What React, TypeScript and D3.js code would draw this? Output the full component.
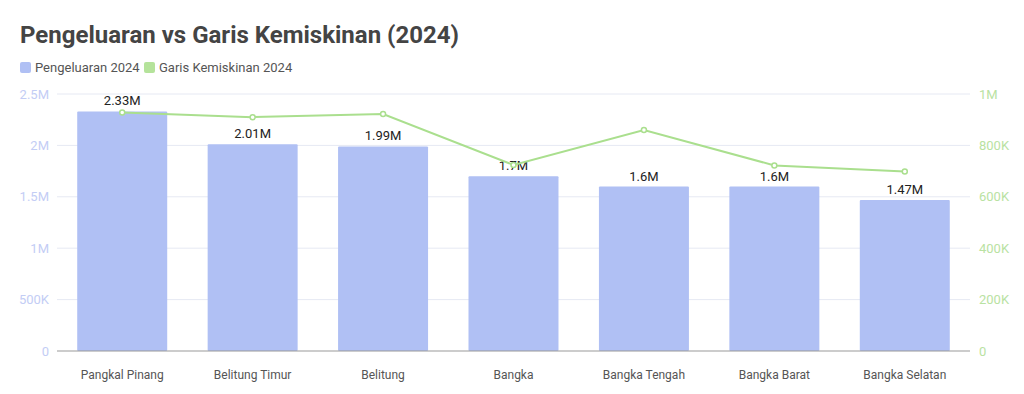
import React from 'react';
import * as d3 from 'd3';

const categories = ['Pangkal Pinang', 'Belitung Timur', 'Belitung', 'Bangka', 'Bangka Tengah', 'Bangka Barat', 'Bangka Selatan'];
const pengeluaran = [2330000, 2010000, 1990000, 1700000, 1600000, 1600000, 1470000];
const garisKemiskinan = [928000, 910000, 922000, 724000, 860000, 722000, 698000];
const leftTicks = [0, 500000, 1000000, 1500000, 2000000, 2500000];
const rightTicks = [0, 200000, 400000, 600000, 800000, 1000000];

const W = 1024;
const H = 394;
const margin = { top: 94, right: 54, bottom: 43, left: 57 };

const fmt = (v: number) => {
  if (v === 0) return '0';
  if (v >= 1000000) return `${+(v / 1000000).toFixed(2)}M`;
  return `${+(v / 1000).toFixed(0)}K`;
};

const App = () => {
  const innerW = W - margin.left - margin.right;
  const innerH = H - margin.top - margin.bottom;

  const x = d3.scaleBand().domain(categories).range([0, innerW]).paddingInner(0.31).paddingOuter(0.155);
  const yL = d3.scaleLinear().domain([0, 2500000]).range([innerH, 0]);
  const yR = d3.scaleLinear().domain([0, 1000000]).range([innerH, 0]);

  const line = d3.line<number>()
    .x((_, i) => (x(categories[i]) ?? 0) + x.bandwidth() / 2)
    .y((d) => yR(d));

  const font = 'Roboto, "Noto Sans", sans-serif';

  return (
    <svg width={W} height={H} style={{ position: 'absolute', left: 0, top: 0 }} fontFamily={font}>
      <rect width={W} height={H} fill="#fff" />
      <text x={20} y={43} fontSize={24} fontWeight="bold" fill="#444">Pengeluaran vs Garis Kemiskinan (2024)</text>
      <g transform="translate(20,62)">
        <rect x={0} y={0} width={11} height={11} rx={2} fill="#b0c0f4" />
        <text x={15} y={10} fontSize={13} fill="#555">Pengeluaran 2024</text>
        <rect x={124} y={0} width={11} height={11} rx={2} fill="#b5e39b" />
        <text x={139} y={10} fontSize={13} fill="#555">Garis Kemiskinan 2024</text>
      </g>
      <g transform={`translate(${margin.left},${margin.top})`}>
        {leftTicks.map((t) => (
          <g key={t}>
            {t > 0 && <line x1={0} x2={innerW} y1={yL(t)} y2={yL(t)} stroke="#e6e9f3" strokeWidth={1} />}
            <text x={-8} y={yL(t)} dy="0.35em" textAnchor="end" fontSize={13} fill="#c3cdf5">{fmt(t)}</text>
          </g>
        ))}
        {rightTicks.map((t) => (
          <text key={t} x={innerW + 9} y={yR(t)} dy="0.35em" fontSize={13} fill="#b9e2a2">{fmt(t)}</text>
        ))}
        {categories.map((c, i) => (
          <g key={c}>
            <rect x={x(c)} y={yL(pengeluaran[i])} width={x.bandwidth()} height={innerH - yL(pengeluaran[i])} fill="#b0c0f4" rx={1} />
            <text x={(x(c) ?? 0) + x.bandwidth() / 2} y={yL(pengeluaran[i]) - 6} textAnchor="middle" fontSize={13} fill="#222">{fmt(pengeluaran[i])}</text>
            <text x={(x(c) ?? 0) + x.bandwidth() / 2} y={innerH + 28} textAnchor="middle" fontSize={12} fill="#555">{c}</text>
          </g>
        ))}
        <line x1={0} x2={innerW} y1={innerH} y2={innerH} stroke="#999" strokeWidth={1} />
        <path d={line(garisKemiskinan) ?? ''} fill="none" stroke="#aadf8e" strokeWidth={2} />
        {garisKemiskinan.map((v, i) => (
          <circle key={i} cx={(x(categories[i]) ?? 0) + x.bandwidth() / 2} cy={yR(v)} r={2.5} fill="#fff" stroke="#aadf8e" strokeWidth={1.5} />
        ))}
      </g>
    </svg>
  );
};

export default App;
